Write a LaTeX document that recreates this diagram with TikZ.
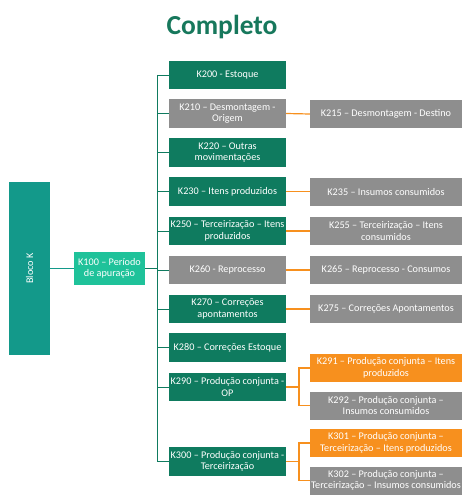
\documentclass[tikz,border=0pt]{standalone}
\usepackage{fontspec}
\setmainfont{Carlito}
\definecolor{verdeEsc}{HTML}{0F7B5F}
\definecolor{verdeTit}{HTML}{17785C}
\definecolor{azulBloco}{HTML}{13998A}
\definecolor{verdeClaro}{HTML}{1FC29A}
\definecolor{cinza}{HTML}{8E8E8E}
\definecolor{laranja}{HTML}{F7901E}
\tikzset{
	caixa/.style={draw=none, text=white, align=center, inner sep=0pt,
		font=\fontsize{10.2}{11.5}\selectfont},
	grnbox/.style={caixa, fill=verdeEsc, minimum width=117pt, minimum height=28.5pt},
	grybox/.style={caixa, fill=cinza, minimum width=152pt, minimum height=28pt},
	orgbox/.style={caixa, fill=laranja, minimum width=152pt, minimum height=28pt},
	ligverde/.style={draw=verdeEsc, line width=0.9pt},
	liglaranja/.style={draw=laranja, line width=1.2pt}
}
\begin{document}
\begin{tikzpicture}[x=1pt, y=-1pt]
	\useasboundingbox ( 0, 0 ) rectangle ( 474, 500 );

	% titulo
	\node [anchor=base, text=verdeTit, font=\fontsize{27.5}{29}\selectfont\bfseries] (titulo) at ( 222, 35 ) {Completo};

	% bloco K e periodo
	\node [caixa, fill=azulBloco, minimum width=41pt, minimum height=173pt] (bloco) at ( 29.5, 268.5 ) {};
	\node [caixa, rotate=90] (blocotxt) at (bloco.center) {Bloco K};
	\node [caixa, fill=verdeClaro, minimum width=71pt, minimum height=33pt] (k100) at ( 109.5, 268.5 ) {K100 – Período\\de apuração};
	\draw [draw=azulBloco, line width=0.9pt] (bloco.east) -- (k100.west);

	% registros filhos de K100
	\node [grnbox] (k200) at ( 227.5, 75.0 ) {K200 - Estoque};
	\node [grnbox, fill=cinza] (k210) at ( 227.5, 113.5 ) {K210 – Desmontagem -\\Origem};
	\node [grnbox] (k220) at ( 227.5, 152.5 ) {K220 – Outras\\movimentações};
	\node [grnbox] (k230) at ( 227.5, 191.5 ) {K230 – Itens produzidos};
	\node [grnbox] (k250) at ( 227.5, 231.0 ) {K250 – Terceirização – Itens\\produzidos};
	\node [grnbox, fill=cinza] (k260) at ( 227.5, 270.0 ) {K260 - Reprocesso};
	\node [grnbox] (k270) at ( 227.5, 309.0 ) {K270 – Correções\\apontamentos};
	\node [grnbox] (k280) at ( 227.5, 347.5 ) {K280 – Correções Estoque};
	\node [grnbox] (k290) at ( 227.5, 387.0 ) {K290 – Produção conjunta -\\OP};
	\node [grnbox] (k300) at ( 227.5, 461.5 ) {K300 – Produção conjunta -\\Terceirização};

	% barramento
	\coordinate (bustop) at ( 157, 75.0 );
	\coordinate (busbot) at ( 157, 461.5 );
	\draw [ligverde] (bustop) -- (busbot);
	\draw [ligverde, line width=1.3pt] (k100.east) -- (k100.east -| bustop);
	\foreach \reg in {k200, k210, k220, k230, k250, k260, k270, k280, k290, k300}
		\draw [ligverde] (\reg.west) -- (\reg.west -| bustop);

	% registros filhos
	\node [grybox] (k215) at ( 386, 114.0 ) {K215 – Desmontagem - Destino};
	\node [grybox] (k235) at ( 386, 191.5 ) {K235 – Insumos consumidos};
	\node [grybox] (k255) at ( 386, 231.0 ) {K255 – Terceirização – Itens\\consumidos};
	\node [grybox] (k265) at ( 386, 270.0 ) {K265 – Reprocesso - Consumos};
	\node [grybox] (k275) at ( 386, 309.0 ) {K275 – Correções Apontamentos};
	\node [orgbox] (k291) at ( 386, 368.0 ) {K291 – Produção conjunta – Itens\\produzidos};
	\node [grybox] (k292) at ( 386, 405.5 ) {K292 – Produção conjunta –\\Insumos consumidos};
	\node [orgbox] (k301) at ( 386, 443.0 ) {K301 – Produção conjunta –\\Terceirização – Itens produzidos};
	\node [grybox] (k302) at ( 386, 480.5 ) {K302 – Produção conjunta –\\Terceirização – Insumos consumidos};

	% ligacoes laranja
	\foreach \pai/\filho in {k210/k215, k230/k235, k250/k255, k260/k265, k270/k275}
		\draw [liglaranja] (\pai.east) -- (\filho.west);
	\coordinate (j290) at ( 299, 387.0 );
	\coordinate (j300) at ( 299, 461.5 );
	\draw [liglaranja] (k290.east) -- (j290);
	\draw [liglaranja] (k291.west) -| (j290) |- (k292.west);
	\draw [liglaranja] (k300.east) -- (j300);
	\draw [liglaranja] (k301.west) -| (j300) |- (k302.west);
\end{tikzpicture}
\end{document}
